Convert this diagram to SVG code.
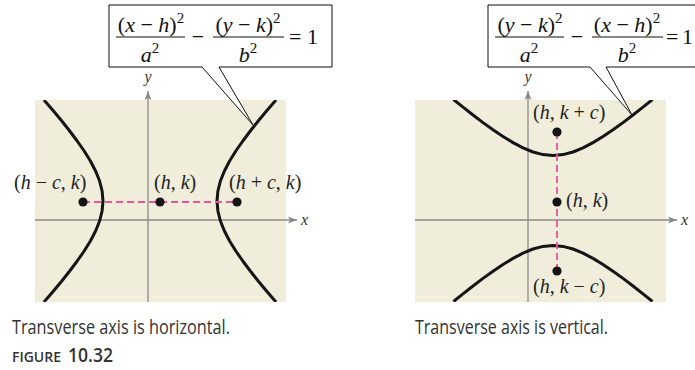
<svg xmlns="http://www.w3.org/2000/svg" width="695" height="370" viewBox="0 0 695 370">
<style>
.bg{fill:#f1eddb}
.ax{stroke:#8a8a8a;stroke-width:1.3;fill:none}
.curve{stroke:#151515;stroke-width:3;fill:none;stroke-linejoin:round;stroke-linecap:butt}
.dash{stroke:#e8559f;stroke-width:1.8;stroke-dasharray:7 4;fill:none}
.dot{fill:#151515}
.it{font-style:italic}
.lbl{font-family:"Liberation Serif","Times New Roman",serif;font-size:20px;fill:#222}
.axl{font-family:"Liberation Serif","Times New Roman",serif;font-style:italic;font-size:16px;fill:#333}
.eq{font-family:"Liberation Serif","Times New Roman",serif;font-size:22px;fill:#111}
.sup{font-size:15px}
.bar{stroke:#111;stroke-width:1}
.call{fill:#fff;stroke:#111;stroke-width:1}
.cap{font-family:"Open Sans","Liberation Sans",sans-serif;font-size:20px;fill:#333}
.fig{font-family:"Open Sans","Liberation Sans",sans-serif;fill:#333;font-weight:600}
</style>
<defs>
<marker id="arr" markerWidth="10" markerHeight="8" refX="9" refY="4" orient="auto" markerUnits="userSpaceOnUse">
<path d="M0,0.5 L9,4 L0,7.5 L2,4 Z" fill="#8a8a8a"/>
</marker>
<clipPath id="cl"><rect x="35" y="100" width="251" height="202"/></clipPath>
<clipPath id="cr"><rect x="415" y="100" width="251" height="202"/></clipPath>
</defs>

<g id="panel-left">
<rect class="bg" x="35" y="100" width="251" height="202"/>
<line class="ax" x1="148" y1="302" x2="148" y2="91" marker-end="url(#arr)"/>
<line class="ax" x1="35" y1="220" x2="297" y2="220" marker-end="url(#arr)"/>
<text class="axl" x="148" y="82" text-anchor="middle">y</text>
<text class="axl" x="301" y="225">x</text>
<g clip-path="url(#cl)">
<polyline class="curve" points="44,100 53.5,111 61.8,121 69.7,131 77.2,141 84.2,151 90.4,161 95.6,171 99.6,181 102.1,191 103,201 102.1,211 99.6,221 95.6,231 90.4,241 84.2,251 77.2,261 69.7,271 61.8,281 53.5,291 44,302"/>
<polyline class="curve" points="276,100 266.5,111 258.2,121 250.3,131 242.8,141 235.8,151 229.6,161 224.4,171 220.4,181 217.9,191 217,201 217.9,211 220.4,221 224.4,231 229.6,241 235.8,251 242.8,261 250.3,271 258.2,281 266.5,291 276,302"/>
</g>
<line class="dash" x1="83" y1="202" x2="237" y2="202"/>
<circle class="dot" cx="83" cy="202" r="4.6"/>
<circle class="dot" cx="160" cy="202" r="4.6"/>
<circle class="dot" cx="237" cy="202" r="4.6"/>
<text class="lbl" x="14" y="189">(<tspan class="it">h</tspan> − <tspan class="it">c</tspan>, <tspan class="it">k</tspan>)</text>
<text class="lbl" x="154" y="189">(<tspan class="it">h</tspan>, <tspan class="it">k</tspan>)</text>
<text class="lbl" x="229" y="189">(<tspan class="it">h</tspan> + <tspan class="it">c</tspan>, <tspan class="it">k</tspan>)</text>
</g>

<g id="callout-left">
<path class="call" d="M202,67 H109 V5 H332 V67 H219 L253,125 Z"/>
<text class="eq" x="151" y="32" text-anchor="middle">(<tspan class="it">x</tspan> − <tspan class="it">h</tspan>)<tspan class="sup" dy="-9">2</tspan></text>
<line class="bar" x1="116" y1="37" x2="185" y2="37"/>
<text class="eq" x="150" y="62" text-anchor="middle"><tspan class="it">a</tspan><tspan class="sup" dy="-9">2</tspan></text>
<text class="eq" x="198" y="44" text-anchor="middle">−</text>
<text class="eq" x="248" y="32" text-anchor="middle">(<tspan class="it">y</tspan> − <tspan class="it">k</tspan>)<tspan class="sup" dy="-9">2</tspan></text>
<line class="bar" x1="213" y1="37" x2="284" y2="37"/>
<text class="eq" x="248" y="62" text-anchor="middle"><tspan class="it">b</tspan><tspan class="sup" dy="-9">2</tspan></text>
<text class="eq" x="289" y="44">= 1</text>
</g>

<g id="panel-right">
<rect class="bg" x="415" y="100" width="251" height="202"/>
<line class="ax" x1="528" y1="302" x2="528" y2="91" marker-end="url(#arr)"/>
<line class="ax" x1="415" y1="220" x2="677" y2="220" marker-end="url(#arr)"/>
<text class="axl" x="528" y="82" text-anchor="middle">y</text>
<text class="axl" x="681" y="225">x</text>
<g clip-path="url(#cr)">
<polyline class="curve" points="453.5,99.5 463,107.1 473,115 483,122.6 493,129.8 503,136.5 513,142.6 523,147.9 533,152 543,154.6 553,155.5 563,154.6 573,152 583,147.9 593,142.6 603,136.5 613,129.8 623,122.6 633,115 643,107.1 652.5,99.5"/>
<polyline class="curve" points="453.5,301.5 463,293.9 473,286 483,278.4 493,271.2 503,264.5 513,258.4 523,253.1 533,249 543,246.4 553,245.5 563,246.4 573,249 583,253.1 593,258.4 603,264.5 613,271.2 623,278.4 633,286 643,293.9 652.5,301.5"/>
</g>
<line class="dash" x1="557" y1="132" x2="557" y2="271"/>
<circle class="dot" cx="557" cy="132" r="4.6"/>
<circle class="dot" cx="557" cy="202" r="4.6"/>
<circle class="dot" cx="557" cy="271" r="4.6"/>
<text class="lbl" x="533" y="119">(<tspan class="it">h</tspan>, <tspan class="it">k</tspan> + <tspan class="it">c</tspan>)</text>
<text class="lbl" x="566" y="207">(<tspan class="it">h</tspan>, <tspan class="it">k</tspan>)</text>
<text class="lbl" x="533" y="293">(<tspan class="it">h</tspan>, <tspan class="it">k</tspan> − <tspan class="it">c</tspan>)</text>
</g>

<g id="callout-right">
<path class="call" d="M590,67 H488 V5 H700 V67 H606 L632,115 Z"/>
<text class="eq" x="530" y="32" text-anchor="middle">(<tspan class="it">y</tspan> − <tspan class="it">k</tspan>)<tspan class="sup" dy="-9">2</tspan></text>
<line class="bar" x1="495" y1="37" x2="564" y2="37"/>
<text class="eq" x="529" y="62" text-anchor="middle"><tspan class="it">a</tspan><tspan class="sup" dy="-9">2</tspan></text>
<text class="eq" x="577" y="44" text-anchor="middle">−</text>
<text class="eq" x="627" y="32" text-anchor="middle">(<tspan class="it">x</tspan> − <tspan class="it">h</tspan>)<tspan class="sup" dy="-9">2</tspan></text>
<line class="bar" x1="592" y1="37" x2="663" y2="37"/>
<text class="eq" x="627" y="62" text-anchor="middle"><tspan class="it">b</tspan><tspan class="sup" dy="-9">2</tspan></text>
<text class="eq" x="666" y="44" textLength="27" lengthAdjust="spacing">= 1</text>
</g>

<g id="captions">
<text class="cap" x="12" y="334" textLength="218" lengthAdjust="spacingAndGlyphs">Transverse axis is horizontal.</text>
<text class="cap" x="415" y="334" textLength="193" lengthAdjust="spacingAndGlyphs">Transverse axis is vertical.</text>
<text class="fig" x="12" y="362"><tspan font-size="14" textLength="49" lengthAdjust="spacingAndGlyphs">FIGURE</tspan><tspan font-size="20" x="68" textLength="45" lengthAdjust="spacingAndGlyphs">10.32</tspan></text>
</g>
</svg>
